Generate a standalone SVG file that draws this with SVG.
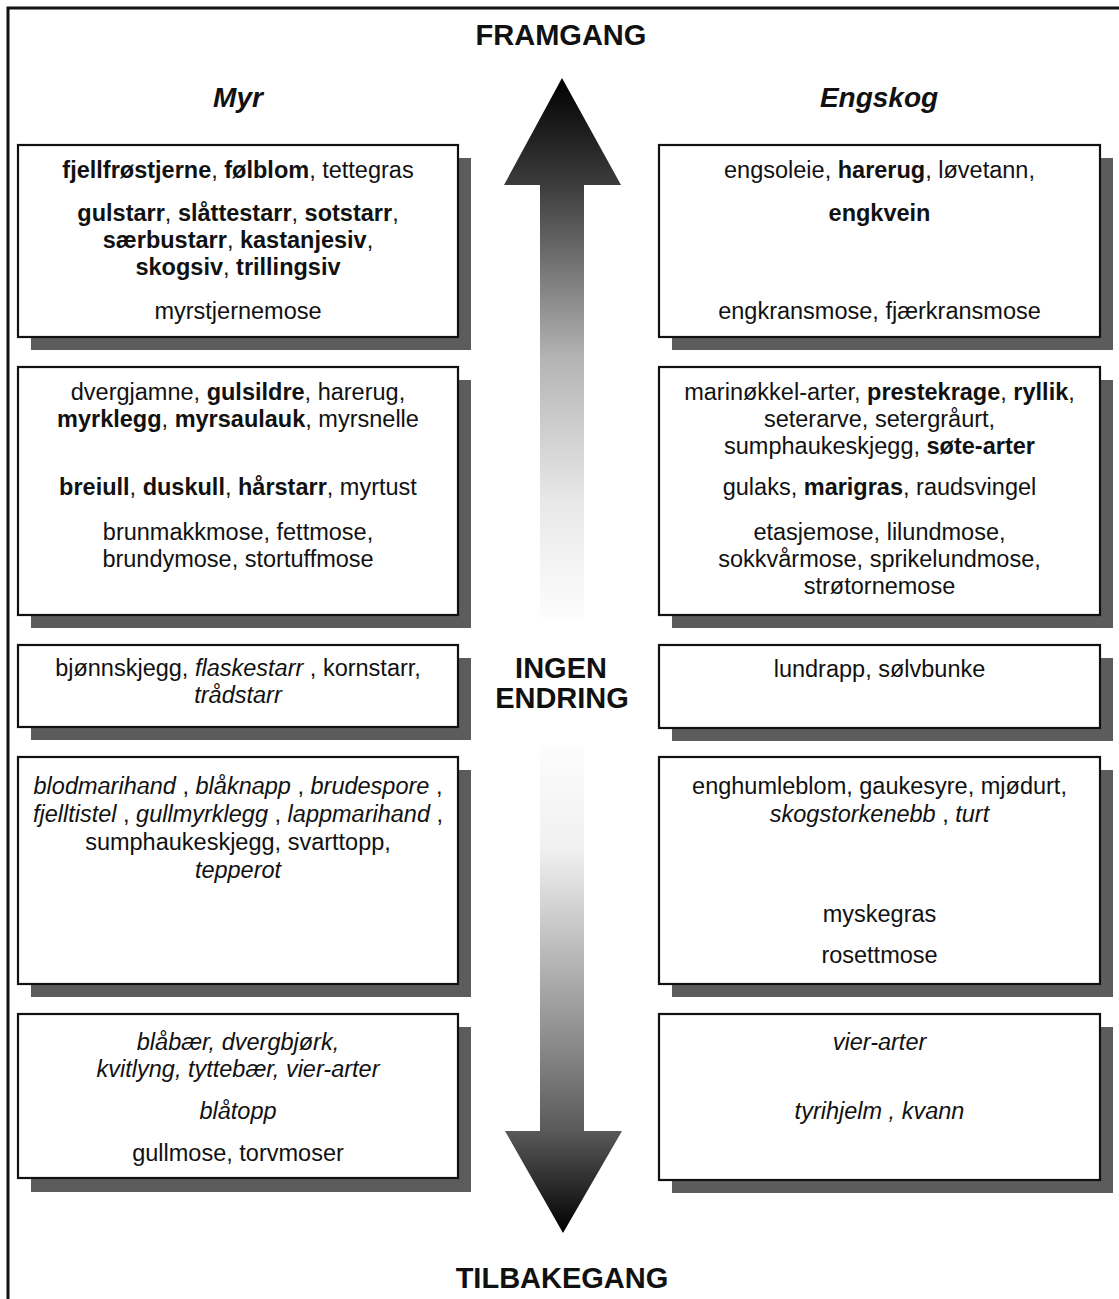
<svg xmlns="http://www.w3.org/2000/svg" width="1119" height="1299" viewBox="0 0 1119 1299">
<style>
.t{font-family:"Liberation Sans",Arial,Helvetica,sans-serif;font-size:23.5px;fill:#111;text-anchor:middle}
.b{font-weight:bold}
.i{font-style:italic}
.h{font-family:"Liberation Sans",Arial,Helvetica,sans-serif;font-size:29px;font-weight:bold;fill:#111;text-anchor:middle}
.hi{font-family:"Liberation Sans",Arial,Helvetica,sans-serif;font-size:28px;font-weight:bold;font-style:italic;fill:#111;text-anchor:middle}
.box{fill:#fff;stroke:#111;stroke-width:2.2}
.sh{fill:#5c5c5c}
</style>
<defs>
<linearGradient id="gUp" gradientUnits="userSpaceOnUse" x1="0" y1="78" x2="0" y2="620">
<stop offset="0" stop-color="#000"/>
<stop offset="0.197" stop-color="#3c3c3c"/>
<stop offset="0.52" stop-color="#b5b5b5"/>
<stop offset="0.78" stop-color="#e8e8e8"/>
<stop offset="1" stop-color="#fdfdfd"/>
</linearGradient>
<linearGradient id="gDown" gradientUnits="userSpaceOnUse" x1="0" y1="745" x2="0" y2="1233">
<stop offset="0" stop-color="#fdfdfd"/>
<stop offset="0.215" stop-color="#f0f0f0"/>
<stop offset="0.605" stop-color="#8c8c8c"/>
<stop offset="0.79" stop-color="#5a5a5a"/>
<stop offset="1" stop-color="#000"/>
</linearGradient>
</defs>
<rect x="0" y="0" width="1119" height="1299" fill="#fff"/>
<rect x="8" y="8" width="1130" height="1310" fill="none" stroke="#111" stroke-width="3"/>

<g id="arrows">
<polygon points="562,78 621,185 584,185 584,620 540,620 540,185 504,185" fill="url(#gUp)"/>
<polygon points="540,745 584,745 584,1131 622,1131 563,1233 505,1131 540,1131" fill="url(#gDown)"/>
</g>

<g id="labels">
<text class="h" x="561" y="45">FRAMGANG</text>
<text class="h" x="562" y="1288">TILBAKEGANG</text>
<text class="h" x="561" y="678">INGEN</text>
<text class="h" x="562" y="708">ENDRING</text>
<text class="hi" x="238" y="107">Myr</text>
<text class="hi" x="879" y="107">Engskog</text>
</g>

<g id="myr1">
<rect class="sh" x="31" y="158" width="440" height="192"/>
<rect class="box" x="18" y="145" width="440" height="192"/>
<text class="t" x="238" y="178"><tspan class="b">fjellfrøstjerne</tspan>, <tspan class="b">følblom</tspan>, tettegras</text>
<text class="t" x="238" y="221"><tspan class="b">gulstarr</tspan>, <tspan class="b">slåttestarr</tspan>, <tspan class="b">sotstarr</tspan>,</text>
<text class="t" x="238" y="248"><tspan class="b">særbustarr</tspan>, <tspan class="b">kastanjesiv</tspan>,</text>
<text class="t" x="238" y="275"><tspan class="b">skogsiv</tspan>, <tspan class="b">trillingsiv</tspan></text>
<text class="t" x="238" y="319">myrstjernemose</text>
</g>

<g id="engskog1">
<rect class="sh" x="672" y="158" width="441" height="192"/>
<rect class="box" x="659" y="145" width="441" height="192"/>
<text class="t" x="879.5" y="178">engsoleie, <tspan class="b">harerug</tspan>, løvetann,</text>
<text class="t b" x="879.5" y="221">engkvein</text>
<text class="t" x="879.5" y="319">engkransmose, fjærkransmose</text>
</g>

<g id="myr2">
<rect class="sh" x="31" y="380" width="440" height="248"/>
<rect class="box" x="18" y="367" width="440" height="248"/>
<text class="t" x="238" y="400">dvergjamne, <tspan class="b">gulsildre</tspan>, harerug,</text>
<text class="t" x="238" y="427"><tspan class="b">myrklegg</tspan>, <tspan class="b">myrsaulauk</tspan>, myrsnelle</text>
<text class="t" x="238" y="495"><tspan class="b">breiull</tspan>, <tspan class="b">duskull</tspan>, <tspan class="b">hårstarr</tspan>, myrtust</text>
<text class="t" x="238" y="540">brunmakkmose, fettmose,</text>
<text class="t" x="238" y="567">brundymose, stortuffmose</text>
</g>

<g id="engskog2">
<rect class="sh" x="672" y="380" width="441" height="248"/>
<rect class="box" x="659" y="367" width="441" height="248"/>
<text class="t" x="879.5" y="400">marinøkkel-arter, <tspan class="b">prestekrage</tspan>, <tspan class="b">ryllik</tspan>,</text>
<text class="t" x="879.5" y="427">seterarve, setergråurt,</text>
<text class="t" x="879.5" y="454">sumphaukeskjegg, <tspan class="b">søte-arter</tspan></text>
<text class="t" x="879.5" y="495">gulaks, <tspan class="b">marigras</tspan>, raudsvingel</text>
<text class="t" x="879.5" y="540">etasjemose, lilundmose,</text>
<text class="t" x="879.5" y="567">sokkvårmose, sprikelundmose,</text>
<text class="t" x="879.5" y="594">strøtornemose</text>
</g>

<g id="myr3">
<rect class="sh" x="31" y="658" width="440" height="82"/>
<rect class="box" x="18" y="645" width="440" height="82"/>
<text class="t" x="238" y="676">bjønnskjegg, <tspan class="i">flaskestarr</tspan> , kornstarr,</text>
<text class="t i" x="238" y="703">trådstarr</text>
</g>

<g id="engskog3">
<rect class="sh" x="672" y="658" width="441" height="83"/>
<rect class="box" x="659" y="645" width="441" height="83"/>
<text class="t" x="879.5" y="677">lundrapp, sølvbunke</text>
</g>

<g id="myr4">
<rect class="sh" x="31" y="770" width="440" height="227"/>
<rect class="box" x="18" y="757" width="440" height="227"/>
<text class="t" x="238" y="794"><tspan class="i">blodmarihand</tspan> , <tspan class="i">blåknapp</tspan> , <tspan class="i">brudespore</tspan> ,</text>
<text class="t" x="238" y="822"><tspan class="i">fjelltistel</tspan> , <tspan class="i">gullmyrklegg</tspan> , <tspan class="i">lappmarihand</tspan> ,</text>
<text class="t" x="238" y="850">sumphaukeskjegg, svarttopp,</text>
<text class="t i" x="238" y="878">tepperot</text>
</g>

<g id="engskog4">
<rect class="sh" x="672" y="770" width="441" height="227"/>
<rect class="box" x="659" y="757" width="441" height="227"/>
<text class="t" x="879.5" y="794">enghumleblom, gaukesyre, mjødurt,</text>
<text class="t" x="879.5" y="822"><tspan class="i">skogstorkenebb</tspan> , <tspan class="i">turt</tspan></text>
<text class="t" x="879.5" y="922">myskegras</text>
<text class="t" x="879.5" y="963">rosettmose</text>
</g>

<g id="myr5">
<rect class="sh" x="31" y="1027" width="440" height="165"/>
<rect class="box" x="18" y="1014" width="440" height="164"/>
<text class="t i" x="238" y="1050">blåbær, dvergbjørk,</text>
<text class="t i" x="238" y="1077">kvitlyng, tyttebær, vier-arter</text>
<text class="t i" x="238" y="1119">blåtopp</text>
<text class="t" x="238" y="1161">gullmose, torvmoser</text>
</g>

<g id="engskog5">
<rect class="sh" x="672" y="1027" width="441" height="166"/>
<rect class="box" x="659" y="1014" width="441" height="166"/>
<text class="t i" x="879.5" y="1050">vier-arter</text>
<text class="t i" x="879.5" y="1119">tyrihjelm , kvann</text>
</g>
</svg>
